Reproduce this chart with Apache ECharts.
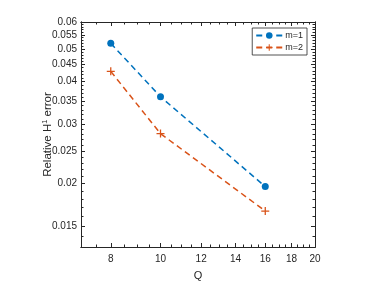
<!DOCTYPE html>
<html><head><meta charset="utf-8">
<script src="https://cdn.jsdelivr.net/npm/echarts@6/dist/echarts.min.js"></script>
<style>html,body{margin:0;padding:0;background:#fff}#c{width:382px;height:286px}</style>
</head><body><div id="c"></div>
<script>
const qValues = [8, 10, 16];
const errM1 = [0.0519, 0.0361, 0.0196];
const errM2 = [0.0429, 0.0281, 0.0166];
const seriesNames = ['m=1', 'm=2'];
const xTicks = [8, 10, 12, 14, 16, 18, 20];
const yTicks = [0.015, 0.02, 0.025, 0.03, 0.035, 0.04, 0.045, 0.05, 0.055, 0.06];
const xMinor = [7, 7.5, 8.5, 9, 9.5, 10.5, 11, 11.5, 12.5, 13, 13.5, 14.5, 15, 15.5, 16.5, 17, 17.5, 18.5, 19, 19.5];
const yMinor = [0.013, 0.014, 0.016, 0.017, 0.018, 0.019, 0.021, 0.022, 0.023, 0.024, 0.026, 0.027, 0.028, 0.029, 0.031, 0.032, 0.033, 0.034, 0.036, 0.037, 0.038, 0.039, 0.041, 0.042, 0.043, 0.044, 0.046, 0.047, 0.048, 0.049, 0.051, 0.052, 0.053, 0.054, 0.056, 0.057, 0.058, 0.059];

const axisCol = '#262626';
const font = 'Liberation Sans, Arial, sans-serif';
const fmtY = v => String(+v.toFixed(4));

function xAxisDef(pos, showLabel, minor) {
  return {
    type: 'log', logBase: 10, min: 7, max: 20, position: pos,
    axisLine: { show: true, lineStyle: { color: axisCol, width: 1 } },
    axisTick: { show: true, inside: true, length: minor ? 2.5 : 4, customValues: minor ? xMinor : xTicks, lineStyle: { color: axisCol } },
    axisLabel: { show: showLabel, customValues: xTicks, color: axisCol, fontSize: 10, fontFamily: font, margin: 7 },
    splitLine: { show: false },
    name: showLabel && !minor ? 'Q' : '', nameLocation: 'middle', nameGap: 23, nameMoveOverlap: false,
    nameTextStyle: { color: axisCol, fontSize: 11, fontFamily: font }
  };
}
function yAxisDef(pos, showLabel, minor) {
  return {
    type: 'log', logBase: 10, min: 0.013, max: 0.06, position: pos,
    axisLine: { show: true, lineStyle: { color: axisCol, width: 1 } },
    axisTick: { show: true, inside: true, length: minor ? 2.5 : 4, customValues: minor ? yMinor : yTicks, lineStyle: { color: axisCol } },
    axisLabel: { show: showLabel, customValues: yTicks, color: axisCol, fontSize: 10, fontFamily: font, margin: 4, formatter: fmtY },
    splitLine: { show: false },
    name: showLabel && !minor ? '{a|Relative H}{s|1}{a| error}' : '', nameLocation: 'middle', nameGap: 26, nameMoveOverlap: false,
    nameTextStyle: { color: axisCol, fontFamily: font, rich: { a: { fontSize: 11.5, lineHeight: 14, fontFamily: font, color: axisCol }, s: { fontSize: 7.5, lineHeight: 6, fontFamily: font, color: axisCol, verticalAlign: 'top' } } }
  };
}

const plusPath = 'path://M-0.16,-1L0.16,-1L0.16,-0.16L1,-0.16L1,0.16L0.16,0.16L0.16,1L-0.16,1L-0.16,0.16L-1,0.16L-1,-0.16L-0.16,-0.16Z';

const chart = echarts.init(document.getElementById('c'), null, { renderer: 'canvas' });
chart.setOption({
  animation: false,
  grid: { left: 81, top: 22, right: 67, bottom: 32, containLabel: false },
  xAxis: [xAxisDef('bottom', true, false), xAxisDef('top', false, false), xAxisDef('bottom', false, true), xAxisDef('top', false, true)],
  yAxis: [yAxisDef('left', true, false), yAxisDef('right', false, false), yAxisDef('left', false, true), yAxisDef('right', false, true)],
  legend: {
    right: 75, top: 28, orient: 'vertical', itemGap: 3, itemWidth: 26, itemHeight: 8,
    backgroundColor: '#fff', borderColor: '#262626', borderWidth: 0.8, borderRadius: 0, padding: [3, 4, 3, 3],
    textStyle: { fontSize: 9, fontFamily: font, color: axisCol, padding: [0, 0, 0, -2] },
    data: seriesNames
  },
  series: [
    { name: seriesNames[0], type: 'line', data: qValues.map((q, i) => [q, errM1[i]]), color: '#0072BD',
      symbol: 'circle', symbolSize: 7, lineStyle: { type: [6, 4], width: 1.5 }, itemStyle: { color: '#0072BD' } },
    { name: seriesNames[1], type: 'line', data: qValues.map((q, i) => [q, errM2[i]]), color: '#D95319',
      symbol: plusPath, symbolSize: 8, lineStyle: { type: [6, 4], width: 1.5 }, itemStyle: { color: '#D95319' } }
  ]
});
</script></body></html>
